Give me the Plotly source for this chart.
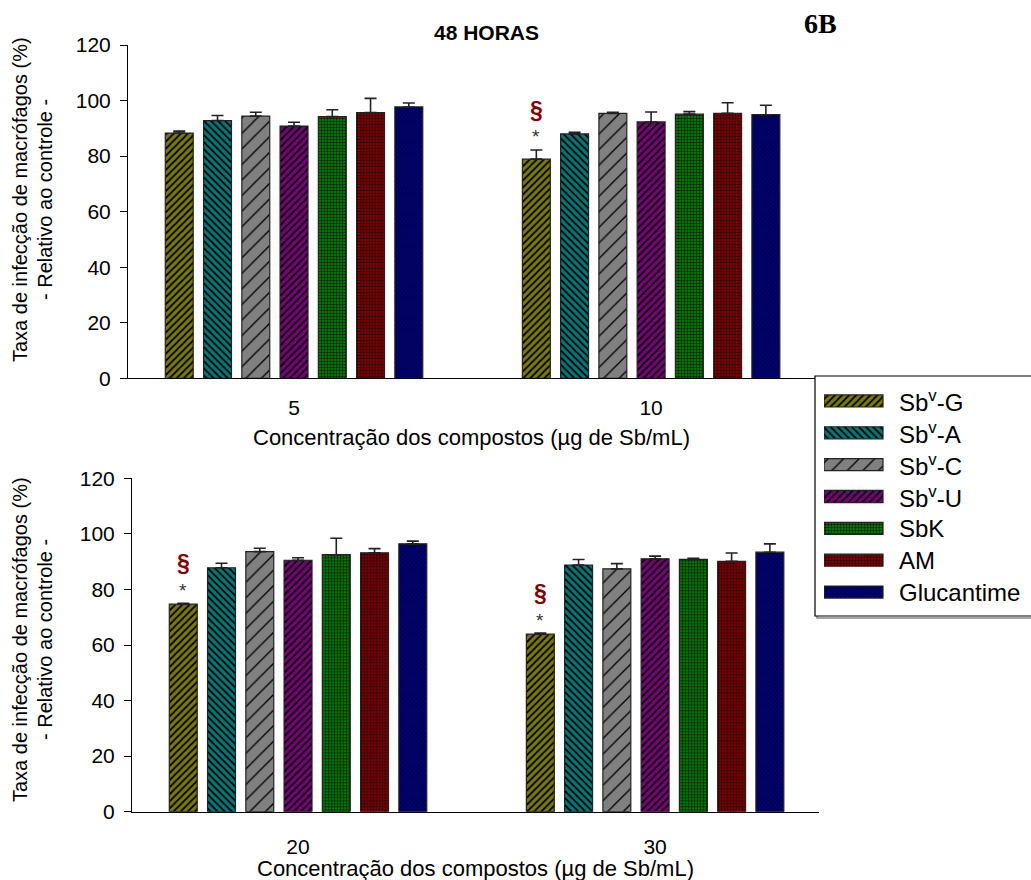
import plotly.graph_objects as go

W, H = 1031, 880

# ---------------- data ----------------
series = ["Sb<sup>v</sup>-G", "Sb<sup>v</sup>-A", "Sb<sup>v</sup>-C", "Sb<sup>v</sup>-U", "SbK", "AM", "Glucantime"]

top_categories = ["5", "10"]
bottom_categories = ["20", "30"]

top_values = {
    "Sb<sup>v</sup>-G": [88.3, 78.9],
    "Sb<sup>v</sup>-A": [92.8, 88.0],
    "Sb<sup>v</sup>-C": [94.4, 95.4],
    "Sb<sup>v</sup>-U": [90.8, 92.3],
    "SbK": [94.2, 95.1],
    "AM": [95.7, 95.4],
    "Glucantime": [97.7, 94.9],
}
top_errors = {
    "Sb<sup>v</sup>-G": [0.7, 3.3],
    "Sb<sup>v</sup>-A": [1.8, 0.6],
    "Sb<sup>v</sup>-C": [1.4, 0.4],
    "Sb<sup>v</sup>-U": [1.4, 3.6],
    "SbK": [2.5, 0.9],
    "AM": [5.1, 3.8],
    "Glucantime": [1.4, 3.4],
}
bottom_values = {
    "Sb<sup>v</sup>-G": [74.7, 63.9],
    "Sb<sup>v</sup>-A": [87.8, 88.8],
    "Sb<sup>v</sup>-C": [93.6, 87.4],
    "Sb<sup>v</sup>-U": [90.5, 91.0],
    "SbK": [92.5, 90.8],
    "AM": [93.2, 90.1],
    "Glucantime": [96.4, 93.4],
}
bottom_errors = {
    "Sb<sup>v</sup>-G": [0.35, 0.4],
    "Sb<sup>v</sup>-A": [1.6, 2.0],
    "Sb<sup>v</sup>-C": [1.2, 1.9],
    "Sb<sup>v</sup>-U": [0.9, 1.0],
    "SbK": [5.9, 0.4],
    "AM": [1.5, 3.0],
    "Glucantime": [1.0, 3.0],
}
# significance marks (series Sb-G): (panel, category index)
significant = [("top", 1), ("bottom", 0), ("bottom", 1)]

y_ticks = [0, 20, 40, 60, 80, 100, 120]
y_title_lines = ["Taxa de infecção de macrófagos (%)", "- Relativo ao controle -"]
x_title = "Concentração dos compostos (\u00b5g de Sb/mL)"

# ---------------- styles ----------------
colors = ["#7a7a00", "#007878", "#808080", "#7a007a", "#007800", "#780000", "#000078"]
shapes = ["/", "\\", "/", "/", "+", "+", "x"]
psizes = [5, 5, 11, 5, 3, 3, 3]
psolid = [0.35, 0.35, 0.12, 0.35, 0.3, 0.25, 0.25]

FONT = "Liberation Sans, Arial, sans-serif"

def px_x(p):
    return p / W

def px_y(p):
    return 1 - p / H

BARGAP = 0.25
NS = len(series)

def bar_marker(i):
    return dict(color=colors[i], line=dict(color="#222222", width=1.2),
                pattern=dict(shape=shapes[i], fgcolor="#000000", bgcolor=colors[i],
                             size=psizes[i], solidity=psolid[i], fillmode="replace"))

fig = go.Figure()

panels = [
    ("top", top_categories, top_values, top_errors, "x", "y"),
    ("bottom", bottom_categories, bottom_values, bottom_errors, "x2", "y2"),
]
for pname, cats, vals, errs, xa, ya in panels:
    for i, s in enumerate(series):
        fig.add_trace(go.Bar(
            x=list(range(len(cats))), y=vals[s], name=s,
            xaxis=xa, yaxis=ya, showlegend=False,
            marker=bar_marker(i),
            error_y=dict(type="data", array=errs[s], arrayminus=[0] * len(cats), symmetric=False,
                         color="#222222", thickness=1.6, width=6),
        ))

# legend swatches on their own axes (one trace per series, sharing one offset group)
for i, s in enumerate(series):
    fig.add_trace(go.Bar(
        y=[s], x=[1], orientation="h", width=0.38, showlegend=False, offsetgroup="legend",
        xaxis="x3", yaxis="y3", hoverinfo="skip", marker=bar_marker(i),
    ))

annotations = []
for s in series:
    annotations.append(dict(xref="x3", yref="y3", x=1.24, y=s, text=s, showarrow=False,
                            xanchor="left", yanchor="middle",
                            font=dict(family=FONT, size=24, color="black")))

# significance markers
first_offset = -(1 - BARGAP) / 2 + (1 - BARGAP) / NS / 2
for pname, ci in significant:
    vals = top_values if pname == "top" else bottom_values
    errs = top_errors if pname == "top" else bottom_errors
    s0 = series[0]
    ytop = vals[s0][ci] + errs[s0][ci]
    xr, yr = ("x", "y") if pname == "top" else ("x2", "y2")
    annotations.append(dict(xref=xr, yref=yr, x=ci + first_offset, y=ytop, yshift=13,
                            text="*", showarrow=False, xanchor="center", yanchor="middle",
                            font=dict(family=FONT, size=19, color="#333333")))
    annotations.append(dict(xref=xr, yref=yr, x=ci + first_offset, y=ytop, yshift=40,
                            text="<b>§</b>", showarrow=False, xanchor="center", yanchor="middle",
                            font=dict(family=FONT, size=23, color="#800000")))

def paper_text(x, y, text, size, family=FONT, angle=0):
    return dict(xref="paper", yref="paper", x=px_x(x), y=px_y(y), text=text, textangle=angle,
                showarrow=False, xanchor="center", yanchor="middle",
                font=dict(family=family, size=size, color="black"))

annotations += [
    paper_text(486, 32, "<b>48 HORAS</b>", 21),
    paper_text(820, 24, "<b>6B</b>", 28, family="Liberation Serif, Times New Roman, serif"),
    paper_text(20, 200, y_title_lines[0], 20, angle=-90),
    paper_text(45, 200, y_title_lines[1], 20, angle=-90),
    paper_text(20, 640, y_title_lines[0], 20, angle=-90),
    paper_text(45, 640, y_title_lines[1], 20, angle=-90),
    paper_text(471, 437, x_title, 22),
    paper_text(475, 868, x_title, 22),
]

# legend box (shadow + frame)
shapes_l = [
    dict(type="rect", xref="paper", yref="paper", x0=px_x(817), x1=px_x(1040),
         y0=px_y(618), y1=px_y(378), line=dict(color="#888888", width=1.5), fillcolor="rgba(0,0,0,0)", layer="below"),
    dict(type="rect", xref="paper", yref="paper", x0=px_x(815), x1=px_x(1040),
         y0=px_y(616), y1=px_y(376), line=dict(color="#000000", width=1.2), fillcolor="white", layer="below"),
]

x_range = [-0.465, 1.459]

def yax(domain, anchor):
    return dict(domain=domain, range=[0, 120], tickvals=y_ticks, ticks="outside", ticklen=7,
                tickcolor="black", showline=True, linecolor="black", linewidth=1, showgrid=False,
                zeroline=False, tickfont=dict(family=FONT, size=21, color="black"), fixedrange=True,
                automargin=False, anchor=anchor, ticklabelstandoff=5)

def xax(domain, cats, anchor, standoff):
    return dict(domain=domain, range=x_range, tickvals=list(range(len(cats))), ticktext=cats,
                ticks="", showline=True, linecolor="black", linewidth=1, showgrid=False,
                zeroline=False, anchor=anchor, ticklabelstandoff=standoff, automargin=False,
                tickfont=dict(family=FONT, size=21, color="black"))

fig.update_layout(
    width=W, height=H, margin=dict(l=0, r=0, t=0, b=0, pad=0, autoexpand=False),
    paper_bgcolor="white", plot_bgcolor="rgba(0,0,0,0)",
    barmode="group", bargap=BARGAP, bargroupgap=0.27,
    showlegend=False,
    xaxis=xax([px_x(128), px_x(815)], top_categories, "y", 10),
    yaxis=yax([px_y(378.3), px_y(45)], "x"),
    xaxis2=xax([px_x(132), px_x(819)], bottom_categories, "y2", 16),
    yaxis2=yax([px_y(811.7), px_y(478.3)], "x2"),
    xaxis3=dict(domain=[px_x(824), px_x(1030)], range=[0, 206 / 59], visible=False, anchor="y3",
                fixedrange=True, automargin=False),
    yaxis3=dict(domain=[px_y(608), px_y(385)], type="category", categoryorder="array",
                categoryarray=series, range=[6.5, -0.5], visible=False, anchor="x3", fixedrange=True,
                automargin=False),
    annotations=annotations,
    shapes=shapes_l,
)

fig.write_html("out.html")
